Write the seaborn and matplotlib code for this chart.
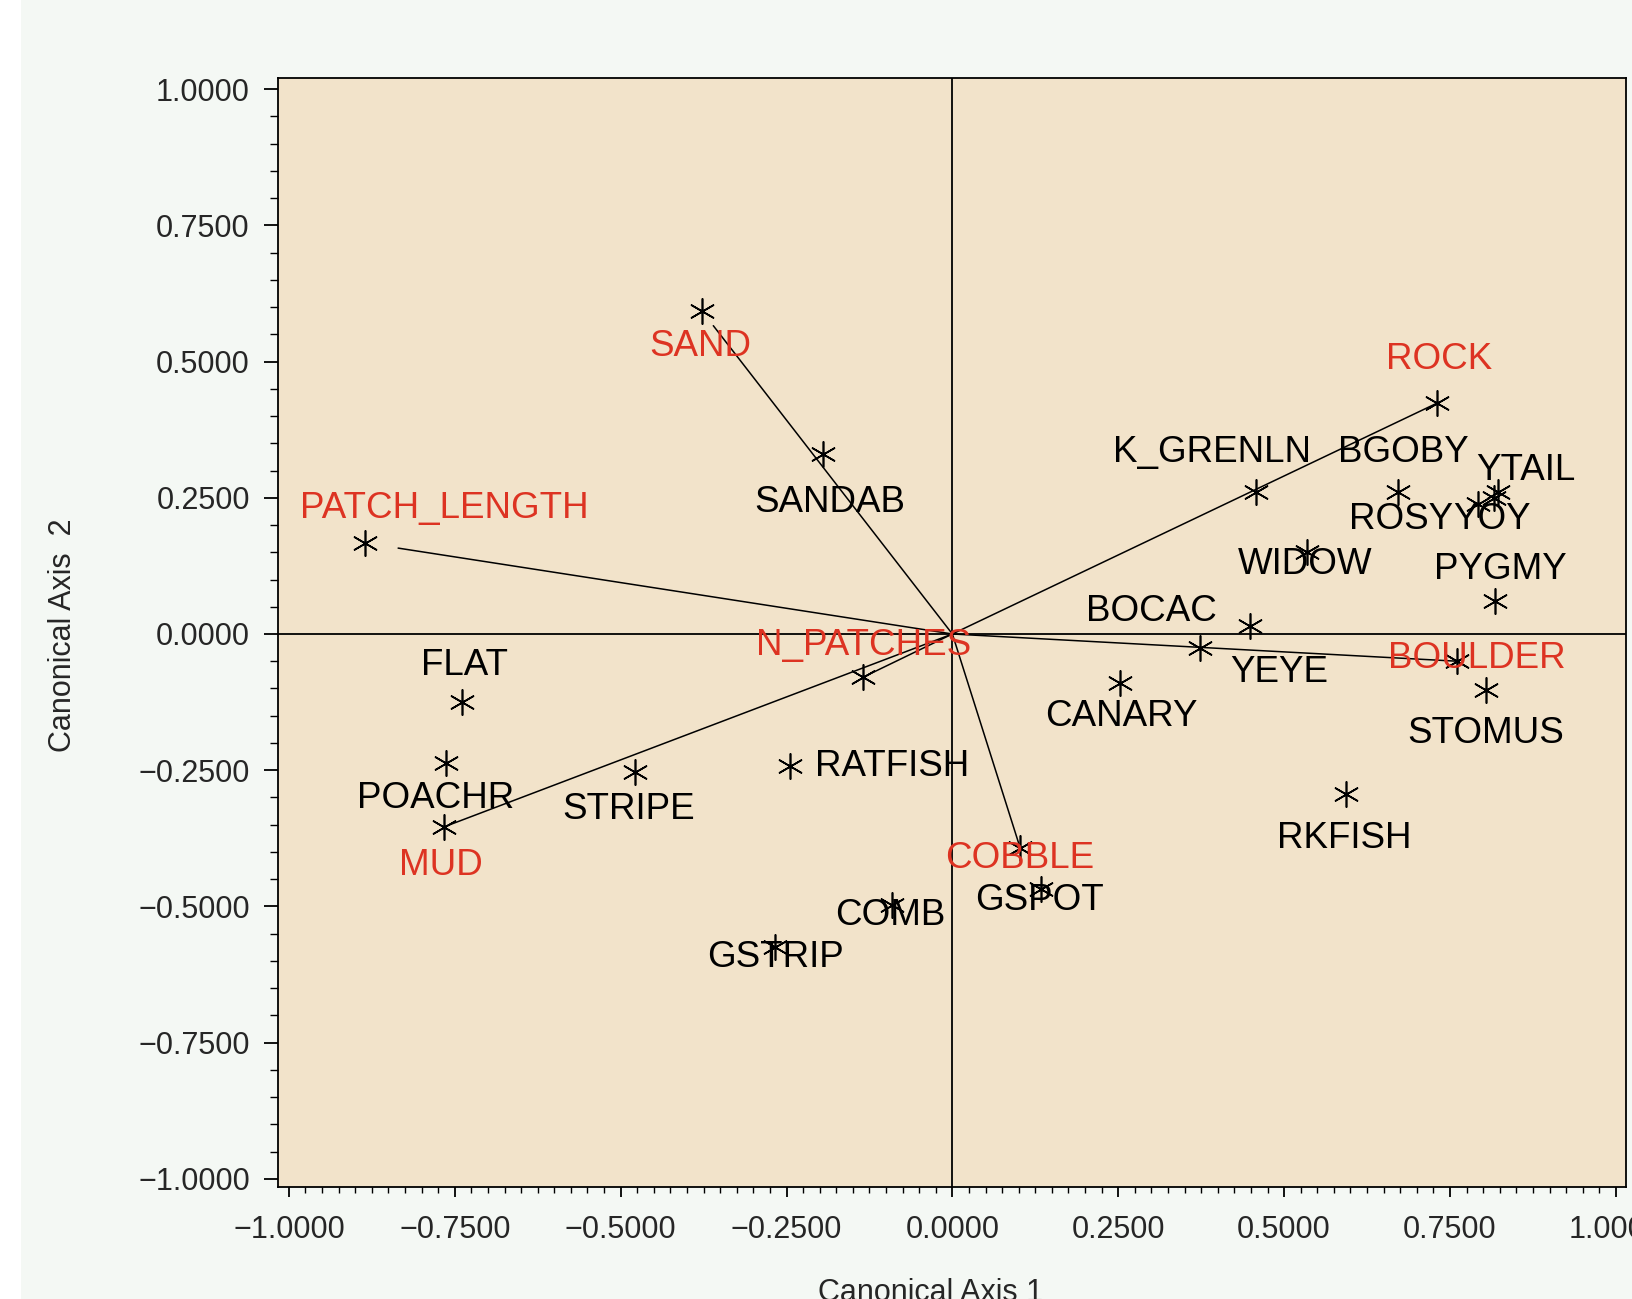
import matplotlib
matplotlib.use("Agg")
import matplotlib.pyplot as plt
import matplotlib.patches as mpatches
from matplotlib.ticker import MultipleLocator, FuncFormatter
import seaborn as sns
import pandas as pd

# Species scores on the first two canonical axes
species = ["SANDAB", "FLAT", "POACHR", "STRIPE", "RATFISH", "K_GRENLN", "BGOBY",
           "ROSY", "YTAIL", "YOY", "WIDOW", "PYGMY", "BOCAC", "YEYE", "CANARY",
           "STOMUS", "RKFISH", "COMB", "GSTRIP", "GSPOT"]
species_x = [-0.195, -0.739, -0.763, -0.478, -0.244, 0.458, 0.671,
             0.792, 0.822, 0.816, 0.535, 0.818, 0.448, 0.373, 0.253,
             0.805, 0.594, -0.091, -0.267, 0.134]
species_y = [0.331, -0.124, -0.237, -0.254, -0.243, 0.260, 0.260,
             0.239, 0.260, 0.250, 0.151, 0.061, 0.015, -0.025, -0.090,
             -0.103, -0.294, -0.497, -0.574, -0.468]

# Habitat variables (biplot vectors)
habitat = ["SAND", "ROCK", "PATCH_LENGTH", "N_PATCHES", "BOULDER", "MUD", "COBBLE"]
habitat_x = [-0.377, 0.731, -0.885, -0.134, 0.761, -0.766, 0.102]
habitat_y = [0.592, 0.424, 0.167, -0.079, -0.050, -0.354, -0.392]

tick_values = [-1.0, -0.75, -0.5, -0.25, 0.0, 0.25, 0.5, 0.75, 1.0]

# Label placement, in points from each point
species_offset = {
    "SANDAB": (5, -35), "FLAT": (1.5, 26), "POACHR": (-7.5, -25.5),
    "STRIPE": (-5, -27), "RATFISH": (73.5, 0), "K_GRENLN": (-32, 29),
    "BGOBY": (4.5, 29), "ROSY": (-55, -11), "YTAIL": (20, 16),
    "YOY": (-1.5, -16), "WIDOW": (-1.5, -9), "PYGMY": (4, 22.5),
    "BOCAC": (-71, 10), "YEYE": (57, -18), "CANARY": (0.75, -24),
    "STOMUS": (-0.75, -31.5), "RKFISH": (-1.5, -32), "COMB": (-1.5, -7.5),
    "GSTRIP": (0, -7.5), "GSPOT": (-1.5, -8),
}
habitat_offset = {
    "SAND": (-1.5, -25.5), "ROCK": (1.5, 31), "PATCH_LENGTH": (57, 25),
    "N_PATCHES": (0, 23), "BOULDER": (14, 2), "MUD": (-2, -28), "COBBLE": (0, -8),
}
vector_gap = {"SAND": 13, "PATCH_LENGTH": 24}

sns.set_theme(style="white")
tick_font = ["Liberation Sans Narrow", "Liberation Sans", "DejaVu Sans"]
label_font = ["Liberation Sans", "DejaVu Sans"]
plt.rcParams["font.family"] = tick_font
plt.rcParams["axes.unicode_minus"] = True

BG = "#f4f8f4"
PANEL = "#f2e3ca"
RED = "#dd3322"

fig = plt.figure(figsize=(16.33, 12.99), dpi=100, facecolor=BG)
fig.patches.append(mpatches.Rectangle((0, 0), 21 / 1633, 1, transform=fig.transFigure,
                                      facecolor="white", edgecolor="none", zorder=-1))
ax = fig.add_axes([0.170, 0.0862, 0.826, 0.854])
ax.set_facecolor(PANEL)

ax.axhline(0, color="black", lw=1.3, zorder=1)
ax.axvline(0, color="black", lw=1.3, zorder=1)

# Vectors from the origin to each habitat variable
for name, x, y in zip(habitat, habitat_x, habitat_y):
    ax.annotate("", xy=(x, y), xytext=(0, 0),
                arrowprops=dict(arrowstyle="-", color="black", lw=1.1,
                                shrinkA=0, shrinkB=vector_gap.get(name, 0)),
                zorder=2)

sp = pd.DataFrame({"axis1": species_x, "axis2": species_y, "name": species})
hb = pd.DataFrame({"axis1": habitat_x, "axis2": habitat_y, "name": habitat})
star = (6, 2, 0)
sns.scatterplot(data=sp, x="axis1", y="axis2", marker=star, s=330, color="black",
                linewidth=1.2, ax=ax, zorder=3, legend=False)
sns.scatterplot(data=hb, x="axis1", y="axis2", marker=star, s=330, color="black",
                linewidth=1.2, ax=ax, zorder=3, legend=False)

for name, x, y in zip(species, species_x, species_y):
    ax.annotate(name, xy=(x, y), xytext=species_offset[name], textcoords="offset points",
                ha="center", va="center", fontsize=26.5, color="black",
                family=label_font, zorder=4)
for name, x, y in zip(habitat, habitat_x, habitat_y):
    ax.annotate(name, xy=(x, y), xytext=habitat_offset[name], textcoords="offset points",
                ha="center", va="center", fontsize=26.5, color=RED,
                family=label_font, zorder=4)

ax.set_xlim(-1.017, 1.016)
ax.set_ylim(-1.015, 1.021)
ax.set_xticks(tick_values)
ax.set_yticks(tick_values)
ax.xaxis.set_minor_locator(MultipleLocator(0.025))
ax.yaxis.set_minor_locator(MultipleLocator(0.05))
fmt = FuncFormatter(lambda v, p: f"{v:.4f}".replace("-", "\u2212") if abs(v) > 1e-9 else "0.0000")
ax.xaxis.set_major_formatter(fmt)
ax.yaxis.set_major_formatter(fmt)
ax.tick_params(which="both", direction="out", bottom=True, left=True, top=False,
               right=False, color="black")
ax.tick_params(axis="x", which="major", length=7, width=1.3, labelsize=22, pad=13)
ax.tick_params(axis="x", which="minor", length=4, width=1.0)
ax.tick_params(axis="y", which="major", length=10, width=1.3, labelsize=22, pad=10)
ax.tick_params(axis="y", which="minor", length=6, width=1.0)
for s in ax.spines.values():
    s.set_color("black")
    s.set_linewidth(1.3)
ax.set_xlabel("")
ax.set_ylabel("")

fig.text(0.570, 0.005, "Canonical Axis 1", ha="center", va="center", fontsize=22)
fig.text(0.0383, 0.511, "Canonical Axis  2", ha="center", va="center",
         rotation=90, fontsize=22)

fig.savefig("out.png", dpi=100, facecolor=BG)
